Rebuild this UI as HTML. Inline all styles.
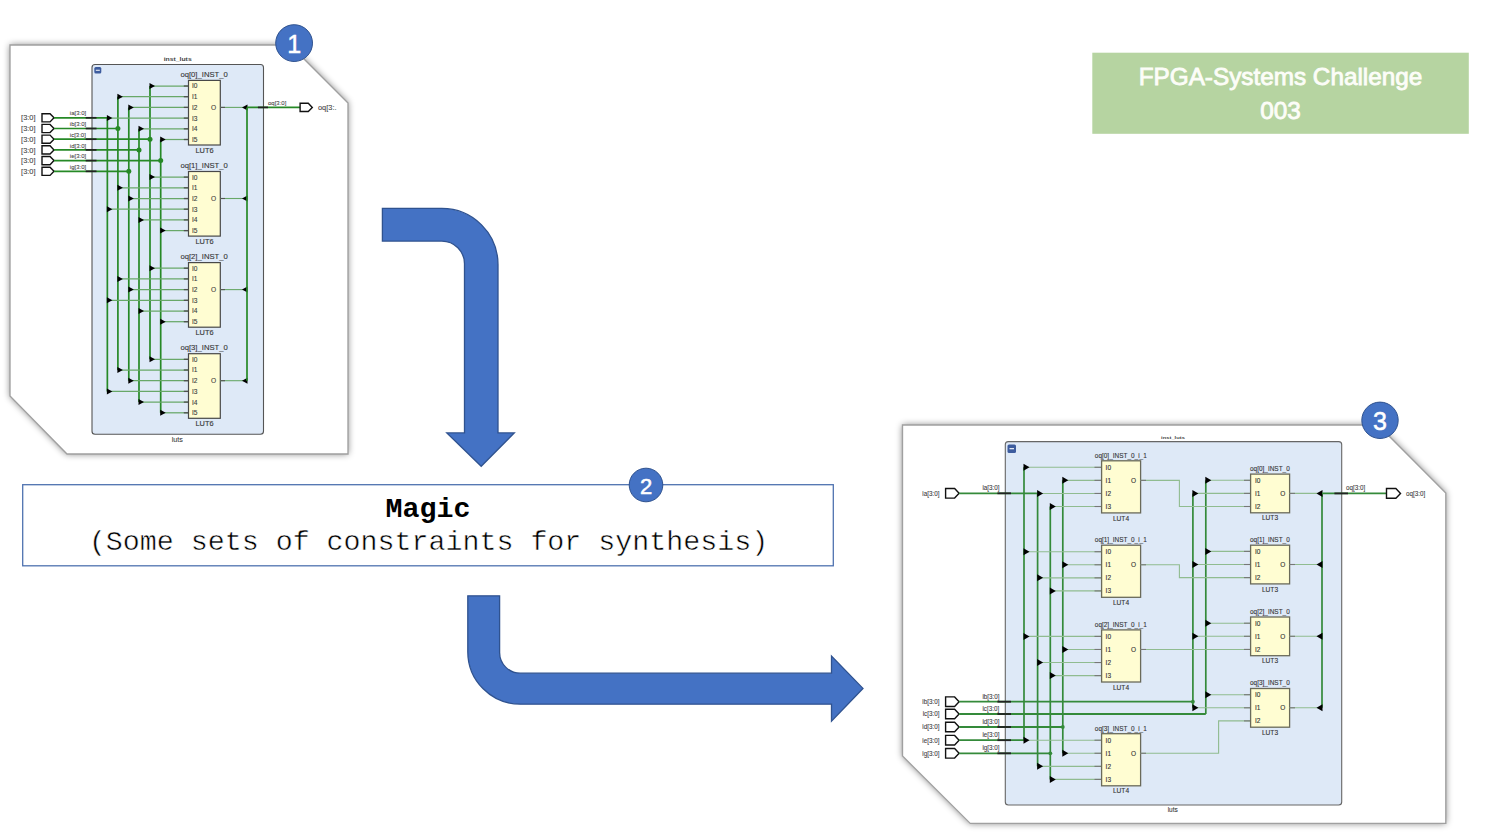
<!DOCTYPE html><html><head><meta charset="utf-8"><style>html,body{margin:0;padding:0;background:#fff;width:1499px;height:838px;overflow:hidden}svg{display:block}</style></head><body><svg width="1499" height="838" viewBox="0 0 1499 838"><defs><filter id="sh" x="-10%" y="-10%" width="120%" height="120%"><feGaussianBlur in="SourceAlpha" stdDeviation="3.5"/><feOffset dx="0" dy="0"/><feComponentTransfer><feFuncA type="linear" slope="0.5"/></feComponentTransfer><feMerge><feMergeNode/><feMergeNode in="SourceGraphic"/></feMerge></filter></defs><rect width="1499" height="838" fill="#fff"/><path d="M10,45L290,45L348,103L348,454L67,454L10,396Z" fill="#fff" filter="url(#sh)"/><path d="M10,45L290,45L348,103L348,454L67,454L10,396Z" fill="none" stroke="#a0a0a0" stroke-width="1.35"/><text x="177.70" y="60.60" font-size="5.0" fill="#444" text-anchor="middle" font-weight="bold" font-family='"Liberation Sans", sans-serif' textLength="28" lengthAdjust="spacingAndGlyphs">inst_luts</text><rect x="92" y="64.5" width="171.5" height="369.8" rx="3" fill="#DEE9F7" stroke="#555" stroke-width="1.1"/><rect x="94.3" y="66.9" width="7" height="6.7" rx="1.5" fill="#3D5C9E"/><line x1="95.80" y1="70.25" x2="99.80" y2="70.25" stroke="#fff" stroke-width="1"/><line x1="107.35" y1="118.10" x2="107.35" y2="391.40" stroke="#268926" stroke-width="1.7"/><line x1="117.90" y1="96.70" x2="117.90" y2="370.00" stroke="#268926" stroke-width="1.7"/><line x1="128.80" y1="107.40" x2="128.80" y2="380.70" stroke="#268926" stroke-width="1.7"/><line x1="139.00" y1="128.80" x2="139.00" y2="402.10" stroke="#268926" stroke-width="1.7"/><line x1="150.00" y1="86.00" x2="150.00" y2="359.30" stroke="#268926" stroke-width="1.7"/><line x1="160.70" y1="139.50" x2="160.70" y2="412.80" stroke="#268926" stroke-width="1.7"/><path d="M42.00,113.70H50.04L54.00,117.80L50.04,121.90H42.00Z" fill="#fff" stroke="#111" stroke-width="1.4"/><text x="35.50" y="120.40" font-size="7.4" fill="#444" text-anchor="end" font-weight="normal" font-family='"Liberation Sans", sans-serif' stroke="#444" stroke-width="0.1" >[3:0]</text><text x="69.80" y="115.40" font-size="6.0" fill="#444" text-anchor="start" font-weight="normal" font-family='"Liberation Sans", sans-serif' stroke="#444" stroke-width="0.08" >ia[3:0]</text><line x1="54.00" y1="117.80" x2="107.35" y2="117.80" stroke="#268926" stroke-width="1.7"/><line x1="85.70" y1="117.80" x2="96.50" y2="117.80" stroke="#222" stroke-width="1.7"/><path d="M42.00,124.40H50.04L54.00,128.50L50.04,132.60H42.00Z" fill="#fff" stroke="#111" stroke-width="1.4"/><text x="35.50" y="131.10" font-size="7.4" fill="#444" text-anchor="end" font-weight="normal" font-family='"Liberation Sans", sans-serif' stroke="#444" stroke-width="0.1" >[3:0]</text><text x="69.80" y="126.10" font-size="6.0" fill="#444" text-anchor="start" font-weight="normal" font-family='"Liberation Sans", sans-serif' stroke="#444" stroke-width="0.08" >ib[3:0]</text><line x1="54.00" y1="128.50" x2="117.90" y2="128.50" stroke="#268926" stroke-width="1.7"/><line x1="85.70" y1="128.50" x2="96.50" y2="128.50" stroke="#222" stroke-width="1.7"/><circle cx="117.90" cy="128.50" r="2.5" fill="#268926"/><path d="M42.00,135.10H50.04L54.00,139.20L50.04,143.30H42.00Z" fill="#fff" stroke="#111" stroke-width="1.4"/><text x="35.50" y="141.80" font-size="7.4" fill="#444" text-anchor="end" font-weight="normal" font-family='"Liberation Sans", sans-serif' stroke="#444" stroke-width="0.1" >[3:0]</text><text x="69.80" y="136.80" font-size="6.0" fill="#444" text-anchor="start" font-weight="normal" font-family='"Liberation Sans", sans-serif' stroke="#444" stroke-width="0.08" >ic[3:0]</text><line x1="54.00" y1="139.20" x2="150.00" y2="139.20" stroke="#268926" stroke-width="1.7"/><line x1="85.70" y1="139.20" x2="96.50" y2="139.20" stroke="#222" stroke-width="1.7"/><circle cx="150.00" cy="139.20" r="2.5" fill="#268926"/><path d="M42.00,145.80H50.04L54.00,149.90L50.04,154.00H42.00Z" fill="#fff" stroke="#111" stroke-width="1.4"/><text x="35.50" y="152.50" font-size="7.4" fill="#444" text-anchor="end" font-weight="normal" font-family='"Liberation Sans", sans-serif' stroke="#444" stroke-width="0.1" >[3:0]</text><text x="69.80" y="147.50" font-size="6.0" fill="#444" text-anchor="start" font-weight="normal" font-family='"Liberation Sans", sans-serif' stroke="#444" stroke-width="0.08" >id[3:0]</text><line x1="54.00" y1="149.90" x2="139.00" y2="149.90" stroke="#268926" stroke-width="1.7"/><line x1="85.70" y1="149.90" x2="96.50" y2="149.90" stroke="#222" stroke-width="1.7"/><circle cx="139.00" cy="149.90" r="2.5" fill="#268926"/><path d="M42.00,156.50H50.04L54.00,160.60L50.04,164.70H42.00Z" fill="#fff" stroke="#111" stroke-width="1.4"/><text x="35.50" y="163.20" font-size="7.4" fill="#444" text-anchor="end" font-weight="normal" font-family='"Liberation Sans", sans-serif' stroke="#444" stroke-width="0.1" >[3:0]</text><text x="69.80" y="158.20" font-size="6.0" fill="#444" text-anchor="start" font-weight="normal" font-family='"Liberation Sans", sans-serif' stroke="#444" stroke-width="0.08" >ie[3:0]</text><line x1="54.00" y1="160.60" x2="160.70" y2="160.60" stroke="#268926" stroke-width="1.7"/><line x1="85.70" y1="160.60" x2="96.50" y2="160.60" stroke="#222" stroke-width="1.7"/><circle cx="160.70" cy="160.60" r="2.5" fill="#268926"/><path d="M42.00,167.20H50.04L54.00,171.30L50.04,175.40H42.00Z" fill="#fff" stroke="#111" stroke-width="1.4"/><text x="35.50" y="173.90" font-size="7.4" fill="#444" text-anchor="end" font-weight="normal" font-family='"Liberation Sans", sans-serif' stroke="#444" stroke-width="0.1" >[3:0]</text><text x="69.80" y="168.90" font-size="6.0" fill="#444" text-anchor="start" font-weight="normal" font-family='"Liberation Sans", sans-serif' stroke="#444" stroke-width="0.08" >ig[3:0]</text><line x1="54.00" y1="171.30" x2="128.80" y2="171.30" stroke="#268926" stroke-width="1.7"/><line x1="85.70" y1="171.30" x2="96.50" y2="171.30" stroke="#222" stroke-width="1.7"/><circle cx="128.80" cy="171.30" r="2.5" fill="#268926"/><line x1="150.00" y1="86.00" x2="188.50" y2="86.00" stroke="#68a868" stroke-width="1.25"/><line x1="183.80" y1="86.00" x2="188.50" y2="86.00" stroke="#505050" stroke-width="1.3"/><path d="M149.50,83.00L155.00,86.00L149.50,89.00Z" fill="#000"/><line x1="117.90" y1="96.70" x2="188.50" y2="96.70" stroke="#68a868" stroke-width="1.25"/><line x1="183.80" y1="96.70" x2="188.50" y2="96.70" stroke="#505050" stroke-width="1.3"/><path d="M117.40,93.70L122.90,96.70L117.40,99.70Z" fill="#000"/><line x1="128.80" y1="107.40" x2="188.50" y2="107.40" stroke="#68a868" stroke-width="1.25"/><line x1="183.80" y1="107.40" x2="188.50" y2="107.40" stroke="#505050" stroke-width="1.3"/><path d="M128.30,104.40L133.80,107.40L128.30,110.40Z" fill="#000"/><line x1="107.35" y1="118.10" x2="188.50" y2="118.10" stroke="#68a868" stroke-width="1.25"/><line x1="183.80" y1="118.10" x2="188.50" y2="118.10" stroke="#505050" stroke-width="1.3"/><path d="M106.85,115.10L112.35,118.10L106.85,121.10Z" fill="#000"/><line x1="139.00" y1="128.80" x2="188.50" y2="128.80" stroke="#68a868" stroke-width="1.25"/><line x1="183.80" y1="128.80" x2="188.50" y2="128.80" stroke="#505050" stroke-width="1.3"/><path d="M138.50,125.80L144.00,128.80L138.50,131.80Z" fill="#000"/><line x1="160.70" y1="139.50" x2="188.50" y2="139.50" stroke="#68a868" stroke-width="1.25"/><line x1="183.80" y1="139.50" x2="188.50" y2="139.50" stroke="#505050" stroke-width="1.3"/><path d="M160.20,136.50L165.70,139.50L160.20,142.50Z" fill="#000"/><rect x="188.5" y="80.40" width="31.8" height="64.60" fill="#FFFDD2" stroke="#484848" stroke-width="1.2"/><text x="192.00" y="88.40" font-size="6.6" fill="#3a3a3a" text-anchor="start" font-weight="normal" font-family='"Liberation Sans", sans-serif' stroke="#3a3a3a" stroke-width="0.1" >I0</text><text x="192.00" y="99.10" font-size="6.6" fill="#3a3a3a" text-anchor="start" font-weight="normal" font-family='"Liberation Sans", sans-serif' stroke="#3a3a3a" stroke-width="0.1" >I1</text><text x="192.00" y="109.80" font-size="6.6" fill="#3a3a3a" text-anchor="start" font-weight="normal" font-family='"Liberation Sans", sans-serif' stroke="#3a3a3a" stroke-width="0.1" >I2</text><text x="192.00" y="120.50" font-size="6.6" fill="#3a3a3a" text-anchor="start" font-weight="normal" font-family='"Liberation Sans", sans-serif' stroke="#3a3a3a" stroke-width="0.1" >I3</text><text x="192.00" y="131.20" font-size="6.6" fill="#3a3a3a" text-anchor="start" font-weight="normal" font-family='"Liberation Sans", sans-serif' stroke="#3a3a3a" stroke-width="0.1" >I4</text><text x="192.00" y="141.90" font-size="6.6" fill="#3a3a3a" text-anchor="start" font-weight="normal" font-family='"Liberation Sans", sans-serif' stroke="#3a3a3a" stroke-width="0.1" >I5</text><text x="213.50" y="109.80" font-size="6.6" fill="#3a3a3a" text-anchor="middle" font-weight="normal" font-family='"Liberation Sans", sans-serif' stroke="#3a3a3a" stroke-width="0.1" >O</text><line x1="220.30" y1="107.40" x2="247.00" y2="107.40" stroke="#68a868" stroke-width="1.1"/><line x1="220.30" y1="107.40" x2="225.00" y2="107.40" stroke="#555" stroke-width="1.1"/><path d="M247.50,104.40L242.00,107.40L247.50,110.40Z" fill="#000"/><text x="204.10" y="76.90" font-size="7.7" fill="#333" text-anchor="middle" font-weight="normal" font-family='"Liberation Sans", sans-serif' stroke="#333" stroke-width="0.1" >oq[0]_INST_0</text><text x="204.50" y="153.00" font-size="7.4" fill="#3a3a3a" text-anchor="middle" font-weight="normal" font-family='"Liberation Sans", sans-serif' stroke="#3a3a3a" stroke-width="0.14" >LUT6</text><line x1="150.00" y1="177.10" x2="188.50" y2="177.10" stroke="#68a868" stroke-width="1.25"/><line x1="183.80" y1="177.10" x2="188.50" y2="177.10" stroke="#505050" stroke-width="1.3"/><path d="M149.50,174.10L155.00,177.10L149.50,180.10Z" fill="#000"/><line x1="117.90" y1="187.80" x2="188.50" y2="187.80" stroke="#68a868" stroke-width="1.25"/><line x1="183.80" y1="187.80" x2="188.50" y2="187.80" stroke="#505050" stroke-width="1.3"/><path d="M117.40,184.80L122.90,187.80L117.40,190.80Z" fill="#000"/><line x1="128.80" y1="198.50" x2="188.50" y2="198.50" stroke="#68a868" stroke-width="1.25"/><line x1="183.80" y1="198.50" x2="188.50" y2="198.50" stroke="#505050" stroke-width="1.3"/><path d="M128.30,195.50L133.80,198.50L128.30,201.50Z" fill="#000"/><line x1="107.35" y1="209.20" x2="188.50" y2="209.20" stroke="#68a868" stroke-width="1.25"/><line x1="183.80" y1="209.20" x2="188.50" y2="209.20" stroke="#505050" stroke-width="1.3"/><path d="M106.85,206.20L112.35,209.20L106.85,212.20Z" fill="#000"/><line x1="139.00" y1="219.90" x2="188.50" y2="219.90" stroke="#68a868" stroke-width="1.25"/><line x1="183.80" y1="219.90" x2="188.50" y2="219.90" stroke="#505050" stroke-width="1.3"/><path d="M138.50,216.90L144.00,219.90L138.50,222.90Z" fill="#000"/><line x1="160.70" y1="230.60" x2="188.50" y2="230.60" stroke="#68a868" stroke-width="1.25"/><line x1="183.80" y1="230.60" x2="188.50" y2="230.60" stroke="#505050" stroke-width="1.3"/><path d="M160.20,227.60L165.70,230.60L160.20,233.60Z" fill="#000"/><rect x="188.5" y="171.50" width="31.8" height="64.60" fill="#FFFDD2" stroke="#484848" stroke-width="1.2"/><text x="192.00" y="179.50" font-size="6.6" fill="#3a3a3a" text-anchor="start" font-weight="normal" font-family='"Liberation Sans", sans-serif' stroke="#3a3a3a" stroke-width="0.1" >I0</text><text x="192.00" y="190.20" font-size="6.6" fill="#3a3a3a" text-anchor="start" font-weight="normal" font-family='"Liberation Sans", sans-serif' stroke="#3a3a3a" stroke-width="0.1" >I1</text><text x="192.00" y="200.90" font-size="6.6" fill="#3a3a3a" text-anchor="start" font-weight="normal" font-family='"Liberation Sans", sans-serif' stroke="#3a3a3a" stroke-width="0.1" >I2</text><text x="192.00" y="211.60" font-size="6.6" fill="#3a3a3a" text-anchor="start" font-weight="normal" font-family='"Liberation Sans", sans-serif' stroke="#3a3a3a" stroke-width="0.1" >I3</text><text x="192.00" y="222.30" font-size="6.6" fill="#3a3a3a" text-anchor="start" font-weight="normal" font-family='"Liberation Sans", sans-serif' stroke="#3a3a3a" stroke-width="0.1" >I4</text><text x="192.00" y="233.00" font-size="6.6" fill="#3a3a3a" text-anchor="start" font-weight="normal" font-family='"Liberation Sans", sans-serif' stroke="#3a3a3a" stroke-width="0.1" >I5</text><text x="213.50" y="200.90" font-size="6.6" fill="#3a3a3a" text-anchor="middle" font-weight="normal" font-family='"Liberation Sans", sans-serif' stroke="#3a3a3a" stroke-width="0.1" >O</text><line x1="220.30" y1="198.50" x2="247.00" y2="198.50" stroke="#68a868" stroke-width="1.1"/><line x1="220.30" y1="198.50" x2="225.00" y2="198.50" stroke="#555" stroke-width="1.1"/><path d="M247.50,195.50L242.00,198.50L247.50,201.50Z" fill="#000"/><text x="204.10" y="168.00" font-size="7.7" fill="#333" text-anchor="middle" font-weight="normal" font-family='"Liberation Sans", sans-serif' stroke="#333" stroke-width="0.1" >oq[1]_INST_0</text><text x="204.50" y="244.10" font-size="7.4" fill="#3a3a3a" text-anchor="middle" font-weight="normal" font-family='"Liberation Sans", sans-serif' stroke="#3a3a3a" stroke-width="0.14" >LUT6</text><line x1="150.00" y1="268.20" x2="188.50" y2="268.20" stroke="#68a868" stroke-width="1.25"/><line x1="183.80" y1="268.20" x2="188.50" y2="268.20" stroke="#505050" stroke-width="1.3"/><path d="M149.50,265.20L155.00,268.20L149.50,271.20Z" fill="#000"/><line x1="117.90" y1="278.90" x2="188.50" y2="278.90" stroke="#68a868" stroke-width="1.25"/><line x1="183.80" y1="278.90" x2="188.50" y2="278.90" stroke="#505050" stroke-width="1.3"/><path d="M117.40,275.90L122.90,278.90L117.40,281.90Z" fill="#000"/><line x1="128.80" y1="289.60" x2="188.50" y2="289.60" stroke="#68a868" stroke-width="1.25"/><line x1="183.80" y1="289.60" x2="188.50" y2="289.60" stroke="#505050" stroke-width="1.3"/><path d="M128.30,286.60L133.80,289.60L128.30,292.60Z" fill="#000"/><line x1="107.35" y1="300.30" x2="188.50" y2="300.30" stroke="#68a868" stroke-width="1.25"/><line x1="183.80" y1="300.30" x2="188.50" y2="300.30" stroke="#505050" stroke-width="1.3"/><path d="M106.85,297.30L112.35,300.30L106.85,303.30Z" fill="#000"/><line x1="139.00" y1="311.00" x2="188.50" y2="311.00" stroke="#68a868" stroke-width="1.25"/><line x1="183.80" y1="311.00" x2="188.50" y2="311.00" stroke="#505050" stroke-width="1.3"/><path d="M138.50,308.00L144.00,311.00L138.50,314.00Z" fill="#000"/><line x1="160.70" y1="321.70" x2="188.50" y2="321.70" stroke="#68a868" stroke-width="1.25"/><line x1="183.80" y1="321.70" x2="188.50" y2="321.70" stroke="#505050" stroke-width="1.3"/><path d="M160.20,318.70L165.70,321.70L160.20,324.70Z" fill="#000"/><rect x="188.5" y="262.60" width="31.8" height="64.60" fill="#FFFDD2" stroke="#484848" stroke-width="1.2"/><text x="192.00" y="270.60" font-size="6.6" fill="#3a3a3a" text-anchor="start" font-weight="normal" font-family='"Liberation Sans", sans-serif' stroke="#3a3a3a" stroke-width="0.1" >I0</text><text x="192.00" y="281.30" font-size="6.6" fill="#3a3a3a" text-anchor="start" font-weight="normal" font-family='"Liberation Sans", sans-serif' stroke="#3a3a3a" stroke-width="0.1" >I1</text><text x="192.00" y="292.00" font-size="6.6" fill="#3a3a3a" text-anchor="start" font-weight="normal" font-family='"Liberation Sans", sans-serif' stroke="#3a3a3a" stroke-width="0.1" >I2</text><text x="192.00" y="302.70" font-size="6.6" fill="#3a3a3a" text-anchor="start" font-weight="normal" font-family='"Liberation Sans", sans-serif' stroke="#3a3a3a" stroke-width="0.1" >I3</text><text x="192.00" y="313.40" font-size="6.6" fill="#3a3a3a" text-anchor="start" font-weight="normal" font-family='"Liberation Sans", sans-serif' stroke="#3a3a3a" stroke-width="0.1" >I4</text><text x="192.00" y="324.10" font-size="6.6" fill="#3a3a3a" text-anchor="start" font-weight="normal" font-family='"Liberation Sans", sans-serif' stroke="#3a3a3a" stroke-width="0.1" >I5</text><text x="213.50" y="292.00" font-size="6.6" fill="#3a3a3a" text-anchor="middle" font-weight="normal" font-family='"Liberation Sans", sans-serif' stroke="#3a3a3a" stroke-width="0.1" >O</text><line x1="220.30" y1="289.60" x2="247.00" y2="289.60" stroke="#68a868" stroke-width="1.1"/><line x1="220.30" y1="289.60" x2="225.00" y2="289.60" stroke="#555" stroke-width="1.1"/><path d="M247.50,286.60L242.00,289.60L247.50,292.60Z" fill="#000"/><text x="204.10" y="259.10" font-size="7.7" fill="#333" text-anchor="middle" font-weight="normal" font-family='"Liberation Sans", sans-serif' stroke="#333" stroke-width="0.1" >oq[2]_INST_0</text><text x="204.50" y="335.20" font-size="7.4" fill="#3a3a3a" text-anchor="middle" font-weight="normal" font-family='"Liberation Sans", sans-serif' stroke="#3a3a3a" stroke-width="0.14" >LUT6</text><line x1="150.00" y1="359.30" x2="188.50" y2="359.30" stroke="#68a868" stroke-width="1.25"/><line x1="183.80" y1="359.30" x2="188.50" y2="359.30" stroke="#505050" stroke-width="1.3"/><path d="M149.50,356.30L155.00,359.30L149.50,362.30Z" fill="#000"/><line x1="117.90" y1="370.00" x2="188.50" y2="370.00" stroke="#68a868" stroke-width="1.25"/><line x1="183.80" y1="370.00" x2="188.50" y2="370.00" stroke="#505050" stroke-width="1.3"/><path d="M117.40,367.00L122.90,370.00L117.40,373.00Z" fill="#000"/><line x1="128.80" y1="380.70" x2="188.50" y2="380.70" stroke="#68a868" stroke-width="1.25"/><line x1="183.80" y1="380.70" x2="188.50" y2="380.70" stroke="#505050" stroke-width="1.3"/><path d="M128.30,377.70L133.80,380.70L128.30,383.70Z" fill="#000"/><line x1="107.35" y1="391.40" x2="188.50" y2="391.40" stroke="#68a868" stroke-width="1.25"/><line x1="183.80" y1="391.40" x2="188.50" y2="391.40" stroke="#505050" stroke-width="1.3"/><path d="M106.85,388.40L112.35,391.40L106.85,394.40Z" fill="#000"/><line x1="139.00" y1="402.10" x2="188.50" y2="402.10" stroke="#68a868" stroke-width="1.25"/><line x1="183.80" y1="402.10" x2="188.50" y2="402.10" stroke="#505050" stroke-width="1.3"/><path d="M138.50,399.10L144.00,402.10L138.50,405.10Z" fill="#000"/><line x1="160.70" y1="412.80" x2="188.50" y2="412.80" stroke="#68a868" stroke-width="1.25"/><line x1="183.80" y1="412.80" x2="188.50" y2="412.80" stroke="#505050" stroke-width="1.3"/><path d="M160.20,409.80L165.70,412.80L160.20,415.80Z" fill="#000"/><rect x="188.5" y="353.70" width="31.8" height="64.60" fill="#FFFDD2" stroke="#484848" stroke-width="1.2"/><text x="192.00" y="361.70" font-size="6.6" fill="#3a3a3a" text-anchor="start" font-weight="normal" font-family='"Liberation Sans", sans-serif' stroke="#3a3a3a" stroke-width="0.1" >I0</text><text x="192.00" y="372.40" font-size="6.6" fill="#3a3a3a" text-anchor="start" font-weight="normal" font-family='"Liberation Sans", sans-serif' stroke="#3a3a3a" stroke-width="0.1" >I1</text><text x="192.00" y="383.10" font-size="6.6" fill="#3a3a3a" text-anchor="start" font-weight="normal" font-family='"Liberation Sans", sans-serif' stroke="#3a3a3a" stroke-width="0.1" >I2</text><text x="192.00" y="393.80" font-size="6.6" fill="#3a3a3a" text-anchor="start" font-weight="normal" font-family='"Liberation Sans", sans-serif' stroke="#3a3a3a" stroke-width="0.1" >I3</text><text x="192.00" y="404.50" font-size="6.6" fill="#3a3a3a" text-anchor="start" font-weight="normal" font-family='"Liberation Sans", sans-serif' stroke="#3a3a3a" stroke-width="0.1" >I4</text><text x="192.00" y="415.20" font-size="6.6" fill="#3a3a3a" text-anchor="start" font-weight="normal" font-family='"Liberation Sans", sans-serif' stroke="#3a3a3a" stroke-width="0.1" >I5</text><text x="213.50" y="383.10" font-size="6.6" fill="#3a3a3a" text-anchor="middle" font-weight="normal" font-family='"Liberation Sans", sans-serif' stroke="#3a3a3a" stroke-width="0.1" >O</text><line x1="220.30" y1="380.70" x2="247.00" y2="380.70" stroke="#68a868" stroke-width="1.1"/><line x1="220.30" y1="380.70" x2="225.00" y2="380.70" stroke="#555" stroke-width="1.1"/><path d="M247.50,377.70L242.00,380.70L247.50,383.70Z" fill="#000"/><text x="204.10" y="350.20" font-size="7.7" fill="#333" text-anchor="middle" font-weight="normal" font-family='"Liberation Sans", sans-serif' stroke="#333" stroke-width="0.1" >oq[3]_INST_0</text><text x="204.50" y="426.30" font-size="7.4" fill="#3a3a3a" text-anchor="middle" font-weight="normal" font-family='"Liberation Sans", sans-serif' stroke="#3a3a3a" stroke-width="0.14" >LUT6</text><line x1="247.00" y1="107.40" x2="247.00" y2="380.70" stroke="#268926" stroke-width="1.7"/><line x1="247.00" y1="107.40" x2="300.00" y2="107.40" stroke="#268926" stroke-width="1.7"/><line x1="257.90" y1="107.40" x2="268.00" y2="107.40" stroke="#222" stroke-width="1.7"/><path d="M300.10,103.25H308.27L312.30,107.40L308.27,111.55H300.10Z" fill="#fff" stroke="#111" stroke-width="1.4"/><text x="268.00" y="104.80" font-size="6.0" fill="#444" text-anchor="start" font-weight="normal" font-family='"Liberation Sans", sans-serif' stroke="#444" stroke-width="0.08" >oq[3:0]</text><text x="318.00" y="110.00" font-size="7.4" fill="#444" text-anchor="start" font-weight="normal" font-family='"Liberation Sans", sans-serif' stroke="#444" stroke-width="0.1" >oq[3:.</text><text x="177.30" y="441.80" font-size="7.2" fill="#3a3a3a" text-anchor="middle" font-weight="normal" font-family='"Liberation Sans", sans-serif' stroke="#3a3a3a" stroke-width="0.08" >luts</text><path d="M902.5,425L1378,425L1445.8,493L1445.8,823.4L970.2,823.4L902.5,756Z" fill="#fff" filter="url(#sh)"/><path d="M902.5,425L1378,425L1445.8,493L1445.8,823.4L970.2,823.4L902.5,756Z" fill="none" stroke="#a0a0a0" stroke-width="1.35"/><text x="1173.00" y="439.20" font-size="4.2" fill="#444" text-anchor="middle" font-weight="bold" font-family='"Liberation Sans", sans-serif' textLength="23.8" lengthAdjust="spacingAndGlyphs">inst_luts</text><rect x="1005.3" y="441.6" width="336.4" height="363.4" rx="3" fill="#DEE9F7" stroke="#666" stroke-width="1.1"/><rect x="1007.5" y="444.4" width="8.5" height="8.6" rx="1.5" fill="#3D5C9E"/><line x1="1009.50" y1="448.70" x2="1014.00" y2="448.70" stroke="#fff" stroke-width="1.1"/><line x1="1024.00" y1="467.30" x2="1024.00" y2="740.20" stroke="#348a3a" stroke-width="1.7"/><line x1="1037.60" y1="493.44" x2="1037.60" y2="766.34" stroke="#348a3a" stroke-width="1.7"/><line x1="1050.30" y1="506.51" x2="1050.30" y2="779.41" stroke="#348a3a" stroke-width="1.7"/><line x1="1062.80" y1="480.37" x2="1062.80" y2="753.27" stroke="#348a3a" stroke-width="1.7"/><line x1="1192.90" y1="493.40" x2="1192.90" y2="707.80" stroke="#348a3a" stroke-width="1.7"/><line x1="1205.80" y1="480.30" x2="1205.80" y2="714.00" stroke="#348a3a" stroke-width="1.7"/><line x1="1322.00" y1="493.40" x2="1322.00" y2="707.80" stroke="#348a3a" stroke-width="1.7"/><path d="M945.60,488.50H954.64L959.10,493.30L954.64,498.10H945.60Z" fill="#fff" stroke="#111" stroke-width="1.4"/><text x="939.50" y="495.60" font-size="6.3" fill="#3a3a3a" text-anchor="end" font-weight="normal" font-family='"Liberation Sans", sans-serif' stroke="#3a3a3a" stroke-width="0.08" >ia[3:0]</text><text x="982.40" y="490.10" font-size="6.3" fill="#3a3a3a" text-anchor="start" font-weight="normal" font-family='"Liberation Sans", sans-serif' stroke="#3a3a3a" stroke-width="0.08" >ia[3:0]</text><line x1="959.20" y1="493.30" x2="1037.60" y2="493.30" stroke="#348a3a" stroke-width="1.8"/><line x1="997.40" y1="493.30" x2="1011.00" y2="493.30" stroke="#222" stroke-width="1.8"/><path d="M945.60,696.90H954.64L959.10,701.70L954.64,706.50H945.60Z" fill="#fff" stroke="#111" stroke-width="1.4"/><text x="939.50" y="704.00" font-size="6.3" fill="#3a3a3a" text-anchor="end" font-weight="normal" font-family='"Liberation Sans", sans-serif' stroke="#3a3a3a" stroke-width="0.08" >ib[3:0]</text><text x="982.40" y="698.50" font-size="6.3" fill="#3a3a3a" text-anchor="start" font-weight="normal" font-family='"Liberation Sans", sans-serif' stroke="#3a3a3a" stroke-width="0.08" >ib[3:0]</text><line x1="959.20" y1="701.70" x2="1192.90" y2="701.70" stroke="#348a3a" stroke-width="1.8"/><line x1="997.40" y1="701.70" x2="1011.00" y2="701.70" stroke="#222" stroke-width="1.8"/><circle cx="1192.90" cy="701.70" r="1.9" fill="#348a3a"/><path d="M945.60,709.20H954.64L959.10,714.00L954.64,718.80H945.60Z" fill="#fff" stroke="#111" stroke-width="1.4"/><text x="939.50" y="716.30" font-size="6.3" fill="#3a3a3a" text-anchor="end" font-weight="normal" font-family='"Liberation Sans", sans-serif' stroke="#3a3a3a" stroke-width="0.08" >ic[3:0]</text><text x="982.40" y="710.80" font-size="6.3" fill="#3a3a3a" text-anchor="start" font-weight="normal" font-family='"Liberation Sans", sans-serif' stroke="#3a3a3a" stroke-width="0.08" >ic[3:0]</text><line x1="959.20" y1="714.00" x2="1205.80" y2="714.00" stroke="#348a3a" stroke-width="1.8"/><line x1="997.40" y1="714.00" x2="1011.00" y2="714.00" stroke="#222" stroke-width="1.8"/><path d="M945.60,722.20H954.64L959.10,727.00L954.64,731.80H945.60Z" fill="#fff" stroke="#111" stroke-width="1.4"/><text x="939.50" y="729.30" font-size="6.3" fill="#3a3a3a" text-anchor="end" font-weight="normal" font-family='"Liberation Sans", sans-serif' stroke="#3a3a3a" stroke-width="0.08" >id[3:0]</text><text x="982.40" y="723.80" font-size="6.3" fill="#3a3a3a" text-anchor="start" font-weight="normal" font-family='"Liberation Sans", sans-serif' stroke="#3a3a3a" stroke-width="0.08" >id[3:0]</text><line x1="959.20" y1="727.00" x2="1062.80" y2="727.00" stroke="#348a3a" stroke-width="1.8"/><line x1="997.40" y1="727.00" x2="1011.00" y2="727.00" stroke="#222" stroke-width="1.8"/><circle cx="1062.80" cy="727.00" r="1.9" fill="#348a3a"/><path d="M945.60,735.40H954.64L959.10,740.20L954.64,745.00H945.60Z" fill="#fff" stroke="#111" stroke-width="1.4"/><text x="939.50" y="742.50" font-size="6.3" fill="#3a3a3a" text-anchor="end" font-weight="normal" font-family='"Liberation Sans", sans-serif' stroke="#3a3a3a" stroke-width="0.08" >ie[3:0]</text><text x="982.40" y="737.00" font-size="6.3" fill="#3a3a3a" text-anchor="start" font-weight="normal" font-family='"Liberation Sans", sans-serif' stroke="#3a3a3a" stroke-width="0.08" >ie[3:0]</text><line x1="959.20" y1="740.20" x2="1024.00" y2="740.20" stroke="#348a3a" stroke-width="1.8"/><line x1="997.40" y1="740.20" x2="1011.00" y2="740.20" stroke="#222" stroke-width="1.8"/><path d="M945.60,748.50H954.64L959.10,753.30L954.64,758.10H945.60Z" fill="#fff" stroke="#111" stroke-width="1.4"/><text x="939.50" y="755.60" font-size="6.3" fill="#3a3a3a" text-anchor="end" font-weight="normal" font-family='"Liberation Sans", sans-serif' stroke="#3a3a3a" stroke-width="0.08" >ig[3:0]</text><text x="982.40" y="750.10" font-size="6.3" fill="#3a3a3a" text-anchor="start" font-weight="normal" font-family='"Liberation Sans", sans-serif' stroke="#3a3a3a" stroke-width="0.08" >ig[3:0]</text><line x1="959.20" y1="753.30" x2="1050.30" y2="753.30" stroke="#348a3a" stroke-width="1.8"/><line x1="997.40" y1="753.30" x2="1011.00" y2="753.30" stroke="#222" stroke-width="1.8"/><circle cx="1050.30" cy="753.30" r="1.9" fill="#348a3a"/><line x1="1024.00" y1="467.30" x2="1101.60" y2="467.30" stroke="#90bc90" stroke-width="1.1"/><line x1="1094.50" y1="467.30" x2="1101.60" y2="467.30" stroke="#777" stroke-width="1.1"/><path d="M1023.50,463.80L1029.50,467.30L1023.50,470.80Z" fill="#000"/><line x1="1062.80" y1="480.37" x2="1101.60" y2="480.37" stroke="#90bc90" stroke-width="1.1"/><line x1="1094.50" y1="480.37" x2="1101.60" y2="480.37" stroke="#777" stroke-width="1.1"/><path d="M1062.30,476.87L1068.30,480.37L1062.30,483.87Z" fill="#000"/><line x1="1037.60" y1="493.44" x2="1101.60" y2="493.44" stroke="#90bc90" stroke-width="1.1"/><line x1="1094.50" y1="493.44" x2="1101.60" y2="493.44" stroke="#777" stroke-width="1.1"/><path d="M1037.10,489.94L1043.10,493.44L1037.10,496.94Z" fill="#000"/><line x1="1050.30" y1="506.51" x2="1101.60" y2="506.51" stroke="#90bc90" stroke-width="1.1"/><line x1="1094.50" y1="506.51" x2="1101.60" y2="506.51" stroke="#777" stroke-width="1.1"/><path d="M1049.80,503.01L1055.80,506.51L1049.80,510.01Z" fill="#000"/><rect x="1101.6" y="460.80" width="39" height="52.11" fill="#FFFDD2" stroke="#6a6a5a" stroke-width="1.3"/><text x="1105.60" y="469.70" font-size="6.5" fill="#333" text-anchor="start" font-weight="normal" font-family='"Liberation Sans", sans-serif' stroke="#333" stroke-width="0.12" >I0</text><text x="1105.60" y="482.77" font-size="6.5" fill="#333" text-anchor="start" font-weight="normal" font-family='"Liberation Sans", sans-serif' stroke="#333" stroke-width="0.12" >I1</text><text x="1105.60" y="495.84" font-size="6.5" fill="#333" text-anchor="start" font-weight="normal" font-family='"Liberation Sans", sans-serif' stroke="#333" stroke-width="0.12" >I2</text><text x="1105.60" y="508.91" font-size="6.5" fill="#333" text-anchor="start" font-weight="normal" font-family='"Liberation Sans", sans-serif' stroke="#333" stroke-width="0.12" >I3</text><text x="1133.60" y="482.77" font-size="6.5" fill="#333" text-anchor="middle" font-weight="normal" font-family='"Liberation Sans", sans-serif' stroke="#333" stroke-width="0.12" >O</text><text x="1120.80" y="457.60" font-size="6.45" fill="#333" text-anchor="middle" font-weight="normal" font-family='"Liberation Sans", sans-serif' stroke="#333" stroke-width="0.1" >oq[0]_INST_0_i_1</text><text x="1121.00" y="520.51" font-size="6.6" fill="#333" text-anchor="middle" font-weight="normal" font-family='"Liberation Sans", sans-serif' stroke="#333" stroke-width="0.12" >LUT4</text><path d="M1140.6,480.37H1179.4V506.50H1250.6" stroke="#90bc90" stroke-width="1.1" fill="none"/><line x1="1140.60" y1="480.37" x2="1146.00" y2="480.37" stroke="#777" stroke-width="1.1"/><line x1="1024.00" y1="551.70" x2="1101.60" y2="551.70" stroke="#90bc90" stroke-width="1.1"/><line x1="1094.50" y1="551.70" x2="1101.60" y2="551.70" stroke="#777" stroke-width="1.1"/><path d="M1023.50,548.20L1029.50,551.70L1023.50,555.20Z" fill="#000"/><line x1="1062.80" y1="564.77" x2="1101.60" y2="564.77" stroke="#90bc90" stroke-width="1.1"/><line x1="1094.50" y1="564.77" x2="1101.60" y2="564.77" stroke="#777" stroke-width="1.1"/><path d="M1062.30,561.27L1068.30,564.77L1062.30,568.27Z" fill="#000"/><line x1="1037.60" y1="577.84" x2="1101.60" y2="577.84" stroke="#90bc90" stroke-width="1.1"/><line x1="1094.50" y1="577.84" x2="1101.60" y2="577.84" stroke="#777" stroke-width="1.1"/><path d="M1037.10,574.34L1043.10,577.84L1037.10,581.34Z" fill="#000"/><line x1="1050.30" y1="590.91" x2="1101.60" y2="590.91" stroke="#90bc90" stroke-width="1.1"/><line x1="1094.50" y1="590.91" x2="1101.60" y2="590.91" stroke="#777" stroke-width="1.1"/><path d="M1049.80,587.41L1055.80,590.91L1049.80,594.41Z" fill="#000"/><rect x="1101.6" y="545.20" width="39" height="52.11" fill="#FFFDD2" stroke="#6a6a5a" stroke-width="1.3"/><text x="1105.60" y="554.10" font-size="6.5" fill="#333" text-anchor="start" font-weight="normal" font-family='"Liberation Sans", sans-serif' stroke="#333" stroke-width="0.12" >I0</text><text x="1105.60" y="567.17" font-size="6.5" fill="#333" text-anchor="start" font-weight="normal" font-family='"Liberation Sans", sans-serif' stroke="#333" stroke-width="0.12" >I1</text><text x="1105.60" y="580.24" font-size="6.5" fill="#333" text-anchor="start" font-weight="normal" font-family='"Liberation Sans", sans-serif' stroke="#333" stroke-width="0.12" >I2</text><text x="1105.60" y="593.31" font-size="6.5" fill="#333" text-anchor="start" font-weight="normal" font-family='"Liberation Sans", sans-serif' stroke="#333" stroke-width="0.12" >I3</text><text x="1133.60" y="567.17" font-size="6.5" fill="#333" text-anchor="middle" font-weight="normal" font-family='"Liberation Sans", sans-serif' stroke="#333" stroke-width="0.12" >O</text><text x="1120.80" y="542.00" font-size="6.45" fill="#333" text-anchor="middle" font-weight="normal" font-family='"Liberation Sans", sans-serif' stroke="#333" stroke-width="0.1" >oq[1]_INST_0_i_1</text><text x="1121.00" y="604.91" font-size="6.6" fill="#333" text-anchor="middle" font-weight="normal" font-family='"Liberation Sans", sans-serif' stroke="#333" stroke-width="0.12" >LUT4</text><path d="M1140.6,564.77H1179.4V577.60H1250.6" stroke="#90bc90" stroke-width="1.1" fill="none"/><line x1="1140.60" y1="564.77" x2="1146.00" y2="564.77" stroke="#777" stroke-width="1.1"/><line x1="1024.00" y1="636.40" x2="1101.60" y2="636.40" stroke="#90bc90" stroke-width="1.1"/><line x1="1094.50" y1="636.40" x2="1101.60" y2="636.40" stroke="#777" stroke-width="1.1"/><path d="M1023.50,632.90L1029.50,636.40L1023.50,639.90Z" fill="#000"/><line x1="1062.80" y1="649.47" x2="1101.60" y2="649.47" stroke="#90bc90" stroke-width="1.1"/><line x1="1094.50" y1="649.47" x2="1101.60" y2="649.47" stroke="#777" stroke-width="1.1"/><path d="M1062.30,645.97L1068.30,649.47L1062.30,652.97Z" fill="#000"/><line x1="1037.60" y1="662.54" x2="1101.60" y2="662.54" stroke="#90bc90" stroke-width="1.1"/><line x1="1094.50" y1="662.54" x2="1101.60" y2="662.54" stroke="#777" stroke-width="1.1"/><path d="M1037.10,659.04L1043.10,662.54L1037.10,666.04Z" fill="#000"/><line x1="1050.30" y1="675.61" x2="1101.60" y2="675.61" stroke="#90bc90" stroke-width="1.1"/><line x1="1094.50" y1="675.61" x2="1101.60" y2="675.61" stroke="#777" stroke-width="1.1"/><path d="M1049.80,672.11L1055.80,675.61L1049.80,679.11Z" fill="#000"/><rect x="1101.6" y="629.90" width="39" height="52.11" fill="#FFFDD2" stroke="#6a6a5a" stroke-width="1.3"/><text x="1105.60" y="638.80" font-size="6.5" fill="#333" text-anchor="start" font-weight="normal" font-family='"Liberation Sans", sans-serif' stroke="#333" stroke-width="0.12" >I0</text><text x="1105.60" y="651.87" font-size="6.5" fill="#333" text-anchor="start" font-weight="normal" font-family='"Liberation Sans", sans-serif' stroke="#333" stroke-width="0.12" >I1</text><text x="1105.60" y="664.94" font-size="6.5" fill="#333" text-anchor="start" font-weight="normal" font-family='"Liberation Sans", sans-serif' stroke="#333" stroke-width="0.12" >I2</text><text x="1105.60" y="678.01" font-size="6.5" fill="#333" text-anchor="start" font-weight="normal" font-family='"Liberation Sans", sans-serif' stroke="#333" stroke-width="0.12" >I3</text><text x="1133.60" y="651.87" font-size="6.5" fill="#333" text-anchor="middle" font-weight="normal" font-family='"Liberation Sans", sans-serif' stroke="#333" stroke-width="0.12" >O</text><text x="1120.80" y="626.70" font-size="6.45" fill="#333" text-anchor="middle" font-weight="normal" font-family='"Liberation Sans", sans-serif' stroke="#333" stroke-width="0.1" >oq[2]_INST_0_i_1</text><text x="1121.00" y="689.61" font-size="6.6" fill="#333" text-anchor="middle" font-weight="normal" font-family='"Liberation Sans", sans-serif' stroke="#333" stroke-width="0.12" >LUT4</text><path d="M1140.6,649.47H1250.6" stroke="#90bc90" stroke-width="1.1" fill="none"/><line x1="1140.60" y1="649.47" x2="1146.00" y2="649.47" stroke="#777" stroke-width="1.1"/><line x1="1024.00" y1="740.20" x2="1101.60" y2="740.20" stroke="#90bc90" stroke-width="1.1"/><line x1="1094.50" y1="740.20" x2="1101.60" y2="740.20" stroke="#777" stroke-width="1.1"/><path d="M1023.50,736.70L1029.50,740.20L1023.50,743.70Z" fill="#000"/><line x1="1062.80" y1="753.27" x2="1101.60" y2="753.27" stroke="#90bc90" stroke-width="1.1"/><line x1="1094.50" y1="753.27" x2="1101.60" y2="753.27" stroke="#777" stroke-width="1.1"/><path d="M1062.30,749.77L1068.30,753.27L1062.30,756.77Z" fill="#000"/><line x1="1037.60" y1="766.34" x2="1101.60" y2="766.34" stroke="#90bc90" stroke-width="1.1"/><line x1="1094.50" y1="766.34" x2="1101.60" y2="766.34" stroke="#777" stroke-width="1.1"/><path d="M1037.10,762.84L1043.10,766.34L1037.10,769.84Z" fill="#000"/><line x1="1050.30" y1="779.41" x2="1101.60" y2="779.41" stroke="#90bc90" stroke-width="1.1"/><line x1="1094.50" y1="779.41" x2="1101.60" y2="779.41" stroke="#777" stroke-width="1.1"/><path d="M1049.80,775.91L1055.80,779.41L1049.80,782.91Z" fill="#000"/><rect x="1101.6" y="733.70" width="39" height="52.11" fill="#FFFDD2" stroke="#6a6a5a" stroke-width="1.3"/><text x="1105.60" y="742.60" font-size="6.5" fill="#333" text-anchor="start" font-weight="normal" font-family='"Liberation Sans", sans-serif' stroke="#333" stroke-width="0.12" >I0</text><text x="1105.60" y="755.67" font-size="6.5" fill="#333" text-anchor="start" font-weight="normal" font-family='"Liberation Sans", sans-serif' stroke="#333" stroke-width="0.12" >I1</text><text x="1105.60" y="768.74" font-size="6.5" fill="#333" text-anchor="start" font-weight="normal" font-family='"Liberation Sans", sans-serif' stroke="#333" stroke-width="0.12" >I2</text><text x="1105.60" y="781.81" font-size="6.5" fill="#333" text-anchor="start" font-weight="normal" font-family='"Liberation Sans", sans-serif' stroke="#333" stroke-width="0.12" >I3</text><text x="1133.60" y="755.67" font-size="6.5" fill="#333" text-anchor="middle" font-weight="normal" font-family='"Liberation Sans", sans-serif' stroke="#333" stroke-width="0.12" >O</text><text x="1120.80" y="730.50" font-size="6.45" fill="#333" text-anchor="middle" font-weight="normal" font-family='"Liberation Sans", sans-serif' stroke="#333" stroke-width="0.1" >oq[3]_INST_0_i_1</text><text x="1121.00" y="793.41" font-size="6.6" fill="#333" text-anchor="middle" font-weight="normal" font-family='"Liberation Sans", sans-serif' stroke="#333" stroke-width="0.12" >LUT4</text><path d="M1140.6,753.27H1218.6V720.90H1250.6" stroke="#90bc90" stroke-width="1.1" fill="none"/><line x1="1140.60" y1="753.27" x2="1146.00" y2="753.27" stroke="#777" stroke-width="1.1"/><line x1="1205.80" y1="480.30" x2="1250.60" y2="480.30" stroke="#90bc90" stroke-width="1.1"/><path d="M1205.30,476.80L1211.30,480.30L1205.30,483.80Z" fill="#000"/><line x1="1192.90" y1="493.40" x2="1250.60" y2="493.40" stroke="#90bc90" stroke-width="1.1"/><path d="M1192.40,489.90L1198.40,493.40L1192.40,496.90Z" fill="#000"/><line x1="1244.00" y1="480.30" x2="1250.60" y2="480.30" stroke="#777" stroke-width="1.1"/><line x1="1244.00" y1="493.40" x2="1250.60" y2="493.40" stroke="#777" stroke-width="1.1"/><line x1="1244.00" y1="506.50" x2="1250.60" y2="506.50" stroke="#777" stroke-width="1.1"/><rect x="1250.6" y="474.10" width="39" height="38.70" fill="#FFFDD2" stroke="#6a6a5a" stroke-width="1.3"/><text x="1254.90" y="482.70" font-size="6.5" fill="#333" text-anchor="start" font-weight="normal" font-family='"Liberation Sans", sans-serif' stroke="#333" stroke-width="0.12" >I0</text><text x="1254.90" y="495.80" font-size="6.5" fill="#333" text-anchor="start" font-weight="normal" font-family='"Liberation Sans", sans-serif' stroke="#333" stroke-width="0.12" >I1</text><text x="1254.90" y="508.90" font-size="6.5" fill="#333" text-anchor="start" font-weight="normal" font-family='"Liberation Sans", sans-serif' stroke="#333" stroke-width="0.12" >I2</text><text x="1282.70" y="495.80" font-size="6.5" fill="#333" text-anchor="middle" font-weight="normal" font-family='"Liberation Sans", sans-serif' stroke="#333" stroke-width="0.12" >O</text><line x1="1289.60" y1="493.40" x2="1322.00" y2="493.40" stroke="#90bc90" stroke-width="1.1"/><line x1="1289.60" y1="493.40" x2="1295.00" y2="493.40" stroke="#777" stroke-width="1.1"/><path d="M1322.50,489.90L1316.50,493.40L1322.50,496.90Z" fill="#000"/><text x="1269.90" y="470.90" font-size="6.45" fill="#333" text-anchor="middle" font-weight="normal" font-family='"Liberation Sans", sans-serif' stroke="#333" stroke-width="0.1" >oq[0]_INST_0</text><text x="1270.00" y="520.40" font-size="6.6" fill="#333" text-anchor="middle" font-weight="normal" font-family='"Liberation Sans", sans-serif' stroke="#333" stroke-width="0.12" >LUT3</text><line x1="1205.80" y1="551.40" x2="1250.60" y2="551.40" stroke="#90bc90" stroke-width="1.1"/><path d="M1205.30,547.90L1211.30,551.40L1205.30,554.90Z" fill="#000"/><line x1="1192.90" y1="564.50" x2="1250.60" y2="564.50" stroke="#90bc90" stroke-width="1.1"/><path d="M1192.40,561.00L1198.40,564.50L1192.40,568.00Z" fill="#000"/><line x1="1244.00" y1="551.40" x2="1250.60" y2="551.40" stroke="#777" stroke-width="1.1"/><line x1="1244.00" y1="564.50" x2="1250.60" y2="564.50" stroke="#777" stroke-width="1.1"/><line x1="1244.00" y1="577.60" x2="1250.60" y2="577.60" stroke="#777" stroke-width="1.1"/><rect x="1250.6" y="545.20" width="39" height="38.70" fill="#FFFDD2" stroke="#6a6a5a" stroke-width="1.3"/><text x="1254.90" y="553.80" font-size="6.5" fill="#333" text-anchor="start" font-weight="normal" font-family='"Liberation Sans", sans-serif' stroke="#333" stroke-width="0.12" >I0</text><text x="1254.90" y="566.90" font-size="6.5" fill="#333" text-anchor="start" font-weight="normal" font-family='"Liberation Sans", sans-serif' stroke="#333" stroke-width="0.12" >I1</text><text x="1254.90" y="580.00" font-size="6.5" fill="#333" text-anchor="start" font-weight="normal" font-family='"Liberation Sans", sans-serif' stroke="#333" stroke-width="0.12" >I2</text><text x="1282.70" y="566.90" font-size="6.5" fill="#333" text-anchor="middle" font-weight="normal" font-family='"Liberation Sans", sans-serif' stroke="#333" stroke-width="0.12" >O</text><line x1="1289.60" y1="564.50" x2="1322.00" y2="564.50" stroke="#90bc90" stroke-width="1.1"/><line x1="1289.60" y1="564.50" x2="1295.00" y2="564.50" stroke="#777" stroke-width="1.1"/><path d="M1322.50,561.00L1316.50,564.50L1322.50,568.00Z" fill="#000"/><text x="1269.90" y="542.00" font-size="6.45" fill="#333" text-anchor="middle" font-weight="normal" font-family='"Liberation Sans", sans-serif' stroke="#333" stroke-width="0.1" >oq[1]_INST_0</text><text x="1270.00" y="591.50" font-size="6.6" fill="#333" text-anchor="middle" font-weight="normal" font-family='"Liberation Sans", sans-serif' stroke="#333" stroke-width="0.12" >LUT3</text><line x1="1205.80" y1="623.20" x2="1250.60" y2="623.20" stroke="#90bc90" stroke-width="1.1"/><path d="M1205.30,619.70L1211.30,623.20L1205.30,626.70Z" fill="#000"/><line x1="1192.90" y1="636.30" x2="1250.60" y2="636.30" stroke="#90bc90" stroke-width="1.1"/><path d="M1192.40,632.80L1198.40,636.30L1192.40,639.80Z" fill="#000"/><line x1="1244.00" y1="623.20" x2="1250.60" y2="623.20" stroke="#777" stroke-width="1.1"/><line x1="1244.00" y1="636.30" x2="1250.60" y2="636.30" stroke="#777" stroke-width="1.1"/><line x1="1244.00" y1="649.40" x2="1250.60" y2="649.40" stroke="#777" stroke-width="1.1"/><rect x="1250.6" y="617.00" width="39" height="38.70" fill="#FFFDD2" stroke="#6a6a5a" stroke-width="1.3"/><text x="1254.90" y="625.60" font-size="6.5" fill="#333" text-anchor="start" font-weight="normal" font-family='"Liberation Sans", sans-serif' stroke="#333" stroke-width="0.12" >I0</text><text x="1254.90" y="638.70" font-size="6.5" fill="#333" text-anchor="start" font-weight="normal" font-family='"Liberation Sans", sans-serif' stroke="#333" stroke-width="0.12" >I1</text><text x="1254.90" y="651.80" font-size="6.5" fill="#333" text-anchor="start" font-weight="normal" font-family='"Liberation Sans", sans-serif' stroke="#333" stroke-width="0.12" >I2</text><text x="1282.70" y="638.70" font-size="6.5" fill="#333" text-anchor="middle" font-weight="normal" font-family='"Liberation Sans", sans-serif' stroke="#333" stroke-width="0.12" >O</text><line x1="1289.60" y1="636.30" x2="1322.00" y2="636.30" stroke="#90bc90" stroke-width="1.1"/><line x1="1289.60" y1="636.30" x2="1295.00" y2="636.30" stroke="#777" stroke-width="1.1"/><path d="M1322.50,632.80L1316.50,636.30L1322.50,639.80Z" fill="#000"/><text x="1269.90" y="613.80" font-size="6.45" fill="#333" text-anchor="middle" font-weight="normal" font-family='"Liberation Sans", sans-serif' stroke="#333" stroke-width="0.1" >oq[2]_INST_0</text><text x="1270.00" y="663.30" font-size="6.6" fill="#333" text-anchor="middle" font-weight="normal" font-family='"Liberation Sans", sans-serif' stroke="#333" stroke-width="0.12" >LUT3</text><line x1="1205.80" y1="694.70" x2="1250.60" y2="694.70" stroke="#90bc90" stroke-width="1.1"/><path d="M1205.30,691.20L1211.30,694.70L1205.30,698.20Z" fill="#000"/><line x1="1192.90" y1="707.80" x2="1250.60" y2="707.80" stroke="#90bc90" stroke-width="1.1"/><path d="M1192.40,704.30L1198.40,707.80L1192.40,711.30Z" fill="#000"/><line x1="1244.00" y1="694.70" x2="1250.60" y2="694.70" stroke="#777" stroke-width="1.1"/><line x1="1244.00" y1="707.80" x2="1250.60" y2="707.80" stroke="#777" stroke-width="1.1"/><line x1="1244.00" y1="720.90" x2="1250.60" y2="720.90" stroke="#777" stroke-width="1.1"/><rect x="1250.6" y="688.50" width="39" height="38.70" fill="#FFFDD2" stroke="#6a6a5a" stroke-width="1.3"/><text x="1254.90" y="697.10" font-size="6.5" fill="#333" text-anchor="start" font-weight="normal" font-family='"Liberation Sans", sans-serif' stroke="#333" stroke-width="0.12" >I0</text><text x="1254.90" y="710.20" font-size="6.5" fill="#333" text-anchor="start" font-weight="normal" font-family='"Liberation Sans", sans-serif' stroke="#333" stroke-width="0.12" >I1</text><text x="1254.90" y="723.30" font-size="6.5" fill="#333" text-anchor="start" font-weight="normal" font-family='"Liberation Sans", sans-serif' stroke="#333" stroke-width="0.12" >I2</text><text x="1282.70" y="710.20" font-size="6.5" fill="#333" text-anchor="middle" font-weight="normal" font-family='"Liberation Sans", sans-serif' stroke="#333" stroke-width="0.12" >O</text><line x1="1289.60" y1="707.80" x2="1322.00" y2="707.80" stroke="#90bc90" stroke-width="1.1"/><line x1="1289.60" y1="707.80" x2="1295.00" y2="707.80" stroke="#777" stroke-width="1.1"/><path d="M1322.50,704.30L1316.50,707.80L1322.50,711.30Z" fill="#000"/><text x="1269.90" y="685.30" font-size="6.45" fill="#333" text-anchor="middle" font-weight="normal" font-family='"Liberation Sans", sans-serif' stroke="#333" stroke-width="0.1" >oq[3]_INST_0</text><text x="1270.00" y="734.80" font-size="6.6" fill="#333" text-anchor="middle" font-weight="normal" font-family='"Liberation Sans", sans-serif' stroke="#333" stroke-width="0.12" >LUT3</text><line x1="1322.00" y1="493.40" x2="1386.50" y2="493.40" stroke="#348a3a" stroke-width="1.8"/><line x1="1334.40" y1="493.40" x2="1348.00" y2="493.40" stroke="#222" stroke-width="1.8"/><path d="M1386.50,488.55H1395.88L1400.50,493.40L1395.88,498.25H1386.50Z" fill="#fff" stroke="#111" stroke-width="1.4"/><text x="1346.00" y="490.00" font-size="6.3" fill="#3a3a3a" text-anchor="start" font-weight="normal" font-family='"Liberation Sans", sans-serif' stroke="#3a3a3a" stroke-width="0.08" >oq[3:0]</text><text x="1406.00" y="495.70" font-size="6.3" fill="#3a3a3a" text-anchor="start" font-weight="normal" font-family='"Liberation Sans", sans-serif' stroke="#3a3a3a" stroke-width="0.08" >oq[3:0]</text><text x="1172.70" y="811.50" font-size="6.5" fill="#333" text-anchor="middle" font-weight="normal" font-family='"Liberation Sans", sans-serif' stroke="#333" stroke-width="0.08" >luts</text><path d="M382.4,208.4 H441.8 A56.2,56.2 0 0 1 498,264.6 V432.9 H514.3 L481.2,466.3 L446.8,432.9 H464.5 V263.8 A22.7,22.7 0 0 0 441.8,241.1 H382.4 Z" fill="#4472C4" stroke="#2F528F" stroke-width="1.3"/><path d="M467.8,595.8 H499.6 V652.5 A20.7,20.7 0 0 0 520.3,673.2 H831.5 V656 L863,688.4 L831.5,721.1 V704.2 H520.3 A52.5,52.5 0 0 1 467.8,651.7 Z" fill="#4472C4" stroke="#2F528F" stroke-width="1.3"/><rect x="22.7" y="484.7" width="810.6" height="81.1" fill="#fff" stroke="#4F72B0" stroke-width="1.3"/><text x="428.00" y="517.00" font-size="28.3" fill="#000" text-anchor="middle" font-weight="bold" font-family='"Liberation Mono", monospace' >Magic</text><text x="428.50" y="550.00" font-size="28.3" fill="#000" text-anchor="middle" font-weight="normal" font-family='"Liberation Mono", monospace' stroke="#fff" stroke-width="0.5">(Some sets of constraints for synthesis)</text><circle cx="294.1" cy="43.1" r="18.4" fill="#4472C4" stroke="#2F528F" stroke-width="1"/><text x="294.10" y="53.00" font-size="25" fill="#fff" text-anchor="middle" font-weight="normal" font-family='"Liberation Sans", sans-serif' stroke="#fff" stroke-width="0.5" >1</text><circle cx="646" cy="485" r="16.8" fill="#4472C4" stroke="#2F528F" stroke-width="1"/><text x="646.00" y="493.82" font-size="22" fill="#fff" text-anchor="middle" font-weight="normal" font-family='"Liberation Sans", sans-serif' stroke="#fff" stroke-width="0.5" >2</text><circle cx="1380" cy="420.3" r="18.2" fill="#4472C4" stroke="#2F528F" stroke-width="1"/><text x="1380.00" y="430.20" font-size="25" fill="#fff" text-anchor="middle" font-weight="normal" font-family='"Liberation Sans", sans-serif' stroke="#fff" stroke-width="0.5" >3</text><rect x="1092.3" y="52.7" width="376.5" height="81.1" fill="#B6D4A1"/><text x="1280.50" y="85.40" font-size="24.3" fill="#FCFDF8" text-anchor="middle" font-weight="normal" font-family='"Liberation Sans", sans-serif' stroke="#FCFDF8" stroke-width="0.85" >FPGA-Systems Challenge</text><text x="1280.50" y="119.40" font-size="24.3" fill="#FCFDF8" text-anchor="middle" font-weight="normal" font-family='"Liberation Sans", sans-serif' stroke="#FCFDF8" stroke-width="0.85" >003</text></svg></body></html>
